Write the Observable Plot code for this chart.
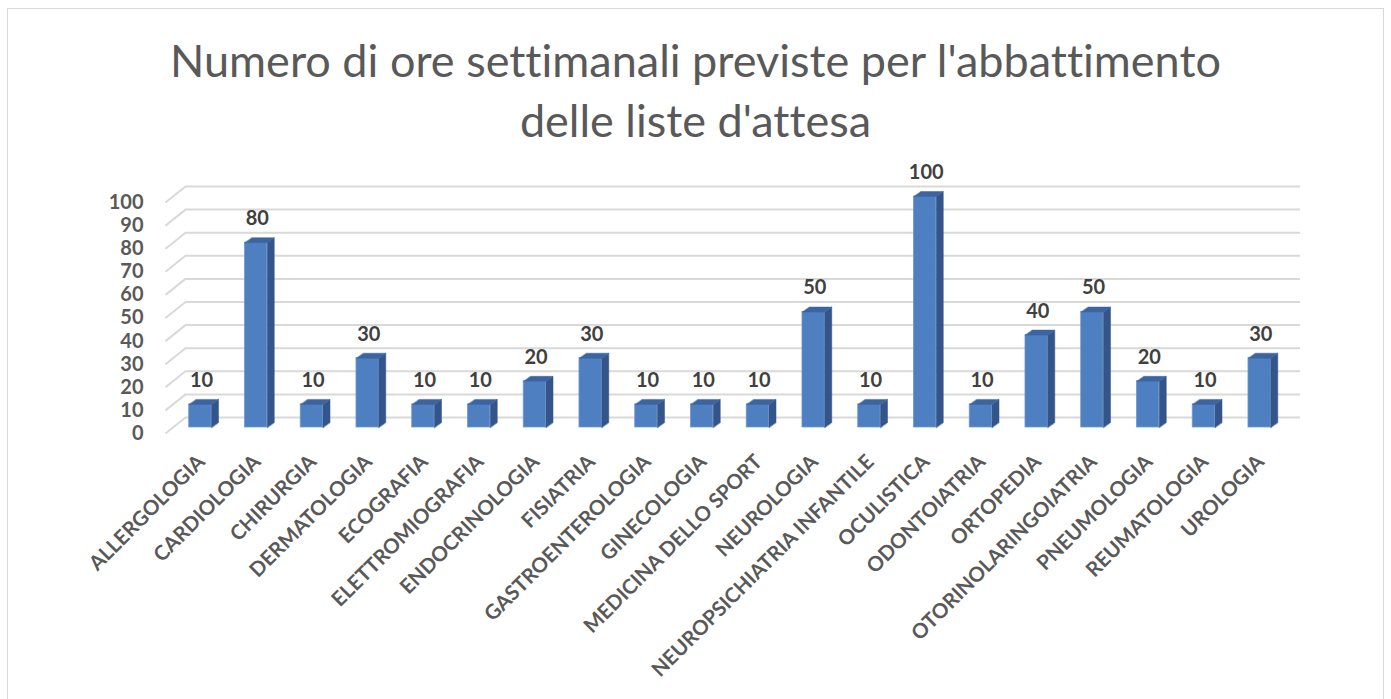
<!DOCTYPE html>
<html>
<head>
<meta charset="utf-8">
<script src="https://cdn.jsdelivr.net/npm/d3@7"></script>
<script src="https://cdn.jsdelivr.net/npm/@observablehq/plot@0.6"></script>
<style>
  html, body { margin: 0; padding: 0; background: #fff; }
  #wrap { position: relative; width: 1391px; height: 699px; overflow: hidden; font-family: Lato, "Open Sans", sans-serif; font-variant-ligatures: none; }
  #frame { position: absolute; left: 7px; top: 8px; width: 1377px; height: 720px; border: 1.5px solid #d9d9d9; box-sizing: border-box; }
  #title { position: absolute; left: 0; top: 30px; width: 1391px; text-align: center; font-size: 45px; line-height: 60px; color: #595959; font-weight: 400; }
  #chart { position: absolute; left: 0; top: 150px; }
  #chart svg text { font-variant-ligatures: none; }
</style>
</head>
<body>
<div id="wrap">
  <div id="frame"></div>
  <div id="title">Numero di ore settimanali previste per l'abbattimento<br>delle liste d'attesa</div>
  <div id="chart"></div>
</div>
<script>
const categories = ["ALLERGOLOGIA","CARDIOLOGIA","CHIRURGIA","DERMATOLOGIA","ECOGRAFIA","ELETTROMIOGRAFIA","ENDOCRINOLOGIA","FISIATRIA","GASTROENTEROLOGIA","GINECOLOGIA","MEDICINA DELLO SPORT","NEUROLOGIA","NEUROPSICHIATRIA INFANTILE","OCULISTICA","ODONTOIATRIA","ORTOPEDIA","OTORINOLARINGOIATRIA","PNEUMOLOGIA","REUMATOLOGIA","UROLOGIA"];
const values = [10,80,10,30,10,10,20,30,10,10,10,50,10,100,10,40,50,20,10,30];
const yTicks = [0,10,20,30,40,50,60,70,80,90,100];

// layout
const W = 1391, H = 549;
const mL = 172, mR = 104, mT = 46, mB = 272;
const xMin = -0.5, xMax = 19.5, yMax = 100;
const kx = (W - mL - mR) / (xMax - xMin);   // px per x unit
const ky = (H - mT - mB) / yMax;            // px per y unit
const half = 0.2;                            // half bar width (x units)
const bdx = 7 / kx, bdy = 5 / ky;            // bar depth
const gdx = 13, gdy = -10;                   // back wall offset (px)

const data = categories.map((c, i) => ({i, c, v: values[i]}));

const sideFaces = data.flatMap(d => [
  {id: d.i, x: d.i + half, y: 0},
  {id: d.i, x: d.i + half, y: d.v},
  {id: d.i, x: d.i + half + bdx, y: d.v + bdy},
  {id: d.i, x: d.i + half + bdx, y: bdy}
]);
const topFaces = data.flatMap(d => [
  {id: d.i, x: d.i - half, y: d.v},
  {id: d.i, x: d.i + half, y: d.v},
  {id: d.i, x: d.i + half + bdx, y: d.v + bdy},
  {id: d.i, x: d.i - half + bdx, y: d.v + bdy}
]);
const diag = yTicks.map(t => ({
  x1: xMin - 7 / kx, y1: t - 6 / ky,
  x2: xMin + gdx / kx, y2: t - gdy / ky
}));

const chart = Plot.plot({
  width: W, height: H,
  marginLeft: mL, marginRight: mR, marginTop: mT, marginBottom: mB,
  style: {fontFamily: "Lato, 'Open Sans', sans-serif", background: "transparent", overflow: "visible"},
  x: {domain: [xMin, xMax], axis: null},
  y: {domain: [0, yMax], axis: null},
  marks: [
    Plot.ruleY(yTicks, {stroke: "#d9d9d9", strokeWidth: 2, dx: gdx, dy: gdy}),
    Plot.link(diag, {x1: "x1", y1: "y1", x2: "x2", y2: "y2", stroke: "#d9d9d9", strokeWidth: 2}),
    Plot.rectY(data, {x1: d => d.i - half, x2: d => d.i + half, y1: 0, y2: "v", fill: "#4e7fc0", stroke: "#6f9ad4", strokeWidth: 0.8}),
    Plot.line(sideFaces, {x: "x", y: "y", z: "id", fill: "#33558a", stroke: "#33558a", strokeWidth: 0.5, curve: "linear-closed"}),
    Plot.line(topFaces, {x: "x", y: "y", z: "id", fill: "#3c64a0", stroke: "#3c64a0", strokeWidth: 0.5, curve: "linear-closed"}),
    Plot.text(data, {x: d => d.i + 0.02, y: "v", text: d => String(d.v), dy: -24, fill: "#404040", fontSize: 20, fontWeight: "bold", lineAnchor: "middle"}),
    Plot.text(yTicks, {x: xMin, y: d => d, text: d => String(d), textAnchor: "end", dx: -29, dy: 6, fill: "#595959", fontSize: 20, fontWeight: "bold"}),
    Plot.text(data, {x: "i", y: 0, text: "c", rotate: -45, textAnchor: "end", lineAnchor: "middle", dx: 1, dy: 31, fill: "#595959", fontSize: 20.5, fontWeight: "bold"})
  ]
});
document.getElementById("chart").appendChild(chart);
</script>
</body>
</html>
